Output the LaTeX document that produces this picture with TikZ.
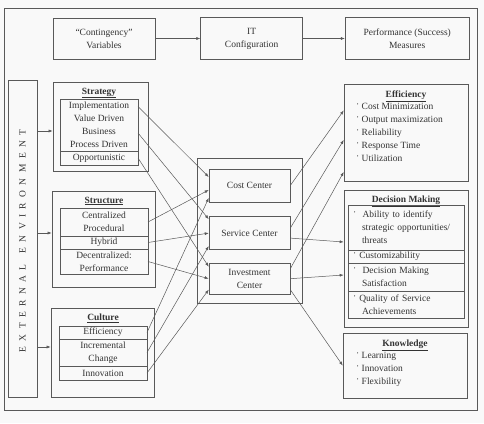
\documentclass[tikz,border=0pt]{standalone}
\usepackage{fontspec}
\setmainfont{Liberation Serif}
\usepackage{tikz}
\usetikzlibrary{positioning, arrows.meta}

\definecolor{linegray}{gray}{0.35}
\definecolor{inkgray}{gray}{0.2}
\definecolor{paper}{gray}{0.975}
\newcommand{\ltrsp}{\hspace{5.4pt}}
\newcommand{\bul}{\raisebox{2pt}{\textperiodcentered}\ }
\newcommand{\hd}[1]{\textbf{\underline{#1}}}

\tikzset{
	box/.style={draw=linegray, line width=0.6pt, align=center, inner sep=0pt, text=inkgray},
	grp/.style={draw=linegray, line width=0.5pt, align=center, inner sep=0pt, outer sep=0pt, text=inkgray},
	lst/.style={align=left, inner sep=0pt, text=inkgray},
	link/.style={draw=linegray, line width=0.5pt, -{Latex[length=4pt,width=3pt]}},
}

\begin{document}
\begin{tikzpicture}[x=1pt, y=1pt, font=\fontsize{9.5}{13}\selectfont]
	\fill[paper] (0,0) rectangle (484,-423);
	\useasboundingbox (0,0) rectangle (484,-423);
	
	\node[box, minimum width=473, minimum height=402] (frame) at (240.5,-209) {};
	
	\node[box, minimum width=102, minimum height=41] (cv) at (104,-38.5) {``Contingency''\\Variables};
	\node[box, minimum width=102, minimum height=42, right=45pt of cv] (itc) {IT\\Configuration};
	\node[box, minimum width=124, minimum height=42, right=42pt of itc] (perf) {Performance (Success)\\Measures};
	
	\node[box, minimum width=29, minimum height=317] (env) at (22.5,-238.5) {};
	\node[rotate=90, text=inkgray] (envT) at (22.5,-241) {E\ltrsp X\ltrsp T\ltrsp E\ltrsp R\ltrsp N\ltrsp A\ltrsp L\hspace{11pt}E\ltrsp N\ltrsp V\ltrsp I\ltrsp R\ltrsp O\ltrsp N\ltrsp M\ltrsp E\ltrsp N\ltrsp T};
	
	\node[box, minimum width=95, minimum height=89] (strat) at (100.5,-126.5) {};
	\node[text=inkgray] (stratT) at (99,-93) {\hd{Strategy}};
	\node[grp, minimum width=78, minimum height=52] (s1) at (99,-125) {Implementation\\Value Driven\\Business\\Process Driven};
	\node[grp, minimum width=78, minimum height=14, below=0pt of s1] (s2) {Opportunistic};
	
	\node[box, minimum width=103, minimum height=96] (struct) at (103.5,-239) {};
	\node[text=inkgray] (structT) at (104,-201) {\hd{Structure}};
	\node[grp, minimum width=88, minimum height=28] (t1) at (104,-222) {Centralized\\Procedural};
	\node[grp, minimum width=88, minimum height=13, below=0pt of t1] (t2) {Hybrid};
	\node[grp, minimum width=88, minimum height=25, below=0pt of t2] (t3) {Decentralized:\\Performance};
	
	\node[box, minimum width=103, minimum height=89] (cult) at (102.5,-352.5) {};
	\node[text=inkgray] (cultT) at (103,-318) {\hd{Culture}};
	\node[grp, minimum width=88, minimum height=13] (c1) at (103,-332.5) {Efficiency};
	\node[grp, minimum width=88, minimum height=27, below=0pt of c1] (c2) {Incremental\\Change};
	\node[grp, minimum width=88, minimum height=14, below=0pt of c2] (c3) {Innovation};
	
	\node[box, minimum width=105, minimum height=145] (itbox) at (249.5,-230.5) {};
	\node[box, minimum width=81, minimum height=33] (cost) at (249.5,-185.5) {Cost Center};
	\node[box, minimum width=81, minimum height=33, below=14pt of cost] (serv) {Service Center};
	\node[box, minimum width=81, minimum height=31, below=13pt of serv] (inv) {Investment\\Center};
	
	\node[box, minimum width=124, minimum height=97] (eff) at (406,-132.5) {};
	\node[text=inkgray] (effT) at (406,-96) {\hd{Efficiency}};
	\node[lst, anchor=north west] (effL) at (356,-103) {\bul Cost Minimization\\\bul Output maximization\\\bul Reliability\\\bul Response Time\\\bul Utilization};
	
	\node[box, minimum width=124, minimum height=137] (dec) at (406,-258.5) {};
	\node[text=inkgray] (decT) at (406,-201) {\hd{Decision Making}};
	\node[grp, minimum width=116, minimum height=45, text width=106, align=left] (d1) at (406,-227.5) {\bul\ Ability to identify\\\hspace*{9pt}strategic opportunities/\\\hspace*{9pt}threats};
	\node[grp, minimum width=116, minimum height=13, text width=106, align=left, below=0pt of d1] (d2) {\bul Customizability};
	\node[grp, minimum width=116, minimum height=28, text width=106, align=left, below=0pt of d2] (d3) {\bul\ Decision Making\\\hspace*{9pt}Satisfaction};
	\node[grp, minimum width=116, minimum height=27, text width=106, align=left, below=0pt of d3] (d4) {\bul Quality of Service\\\hspace*{9pt}Achievements};
	
	\node[box, minimum width=124, minimum height=65] (know) at (405,-365.5) {};
	\node[text=inkgray] (knowT) at (405,-345) {\hd{Knowledge}};
	\node[lst, anchor=north west] (knowL) at (356,-352) {\bul Learning\\\bul Innovation\\\bul Flexibility};
	
	\path ([yshift=-4.5pt]strat.west) coordinate (sIn);
	\path ([yshift=6pt]struct.west) coordinate (tIn);
	\path ([yshift=5.5pt]cult.west) coordinate (cIn);
	
	\draw[link] (cv) -- (itc);
	\draw[link] (itc) -- (perf);
	\draw[link] (env.east |- sIn) -- (sIn);
	\draw[link] (env.east |- tIn) -- (tIn);
	\draw[link] (env.east |- cIn) -- (cIn);
	
	\draw[link] ([yshift=-7.5pt]s1.north east) -- ([yshift=8.5pt]cost.west);
	\draw[link] ([yshift=-8pt]s1.east) -- ([yshift=14pt]serv.west);
	\draw[link] (s2.east) -- ([yshift=12pt]inv.west);
	\draw[link] (t1.east) -- ([yshift=-4.5pt]cost.west);
	\draw[link] (t2.east) -- (serv.west);
	\draw[link] (t3.east) -- (inv.west);
	\draw[link] (c1.east) -- ([yshift=-12.5pt]cost.west);
	\draw[link] (c2.east) -- ([yshift=-13pt]serv.west);
	\draw[link] (c3.east) -- ([yshift=-11pt]inv.west);
	
	\draw[link] (cost.east) -- ([yshift=22pt]eff.west);
	\draw[link] ([yshift=5pt]serv.east) -- ([yshift=-7.5pt]eff.west);
	\draw[link] ([yshift=10pt]inv.east) -- ([yshift=-39.5pt]eff.west);
	\draw[link] ([yshift=-5pt]serv.east) -- ([yshift=16.5pt]dec.west);
	\draw[link] (inv.east) -- ([yshift=-16.5pt]dec.west);
	\draw[link] ([yshift=-11pt]inv.east) -- (know.west);
\end{tikzpicture}
\end{document}
